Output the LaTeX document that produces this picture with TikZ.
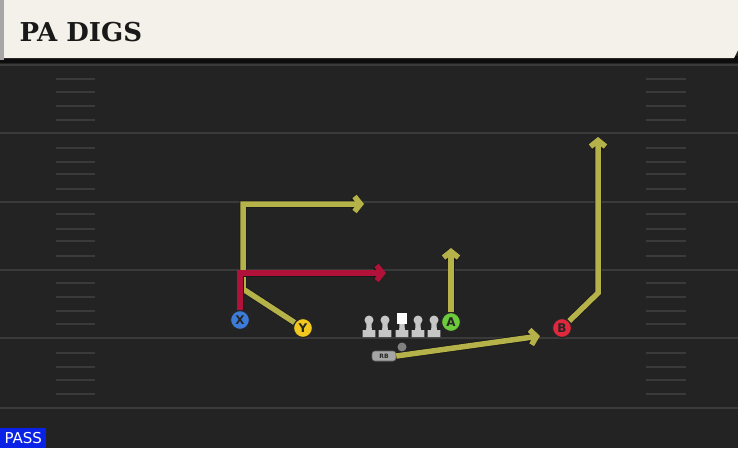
\documentclass[tikz,border=0pt]{standalone}
\usepackage{fontspec}
\setmainfont{DejaVu Sans}
\newfontfamily\titulofont{DejaVu Serif}
\usetikzlibrary{arrows.meta}

\definecolor{campo}{HTML}{232323}
\definecolor{raya}{HTML}{3A3A3A}
\definecolor{cabecera}{HTML}{F4F1EA}
\definecolor{rutaamarilla}{HTML}{B5B24A}
\definecolor{rutaroja}{HTML}{B0123A}
\definecolor{azulX}{HTML}{3D7BD9}
\definecolor{amarilloY}{HTML}{F2C81E}
\definecolor{verdeA}{HTML}{6CCB3A}
\definecolor{rojoB}{HTML}{E0283C}
\definecolor{linea}{HTML}{C6C6C6}
\definecolor{azulpase}{HTML}{0A22E6}

\begin{document}
\begin{tikzpicture}[x=1pt, y=-1pt]

	%DEFINICIONES
	\tikzstyle{every node}=[font=\fontsize{10}{10}\selectfont]
	\tikzstyle{jugador} = [circle, draw=black!85, line width=1.2pt, minimum size=19pt, inner sep=0pt, font=\fontsize{12}{12}\selectfont\bfseries, text=black!85]
	\tikzstyle{ruta} = [line width=5.5pt, draw=rutaamarilla, -{Straight Barb[length=6pt,width=15pt]}, preaction={draw=black!90, line width=7pt}]
	\tikzstyle{rutaroja} = [ruta, draw=rutaroja]
	\tikzstyle{yarda} = [raya, line width=2.5pt]
	\tikzstyle{marca} = [raya, line width=2pt]

	\useasboundingbox (0,0) rectangle (738,448);

	%CAMPO
	\fill[campo] (0,0) rectangle (738,448);
	\foreach \y in {65,133,202,270,338,408}
		\draw[yarda] (0,\y) -- (738,\y);
	\foreach \y in {79,92,106,120,148,162,174,189,214,229,241,256,283,297,311,324,353,367,380,394}{
		\draw[marca] (56,\y) -- (95,\y);
		\draw[marca] (646,\y) -- (686,\y);
	}

	%CABECERA
	\fill[black!95] (0,56) rectangle (738,63);
	\fill[black!35] (0,0) rectangle (4,60);
	\fill[cabecera] (4,0) -- (738,0) -- (738,50) -- (734,58) -- (4,58) -- cycle;
	\node[anchor=west, font=\titulofont\bfseries\fontsize{26}{26}\selectfont, text=black!90] (titulo) at (16,32) {PA DIGS};

	%LINEA
	\foreach \i/\x in {1/369,2/385,3/402,4/418,5/434}{
		\fill[linea] (\x-2.6,322) -- (\x+2.6,322) -- (\x+2.8,330) -- (\x+6.3,330) -- (\x+6.3,337) -- (\x-6.3,337) -- (\x-6.3,330) -- (\x-2.8,330) -- cycle;
	}
	\foreach \i/\x in {1/369,2/385,4/418,5/434}
		\node[circle, fill=linea, minimum size=9pt, inner sep=0pt] (L\i) at (\x,320) {};
	\node[rectangle, fill=white, minimum width=10pt, minimum height=11pt, inner sep=0pt] (L3) at (402,318) {};
	\node[circle, fill=black!50, minimum size=9pt, inner sep=0pt] (balon) at (402,347) {};
	\node[rectangle, rounded corners=3pt, fill=black!35, draw=black!60, line width=0.6pt, minimum width=24pt, minimum height=10pt, inner sep=0pt, font=\fontsize{6}{6}\selectfont\bfseries, text=black!85] (RB) at (384,356) {RB};

	%JUGADORES
	\node[jugador, fill=azulX] (X) at (240,320) {X};
	\node[jugador, fill=amarilloY] (Y) at (303,328) {Y};
	\node[jugador, fill=verdeA] (A) at (451,322) {A};
	\node[jugador, fill=rojoB] (B) at (562,328) {B};

	%PUNTOS DE RUTA
	\coordinate (y1) at (243,289);
	\coordinate (y2) at (243,204);
	\coordinate (y3) at (364,204);
	\coordinate (x1) at (240,273);
	\coordinate (x2) at (386,273);
	\coordinate (a1) at (451,248);
	\coordinate (b1) at (598,293);
	\coordinate (b2) at (598,137);
	\coordinate (r1) at (540,336);

	%RUTAS
	\draw[ruta] (Y) -- (y1) -- (y2) -- (y3);
	\draw[rutaroja] (X) -- (x1) -- (x2);
	\draw[ruta] (A) -- (a1);
	\draw[ruta] (B) -- (b1) -- (b2);
	\draw[ruta] (RB.east) -- (r1);

	%PASE
	\node[fill=azulpase, anchor=south west, minimum width=46pt, minimum height=20pt, inner sep=0pt, text=white, font=\fontsize{15}{15}\selectfont] (pase) at (0,448) {PASS};
\end{tikzpicture}
\end{document}
